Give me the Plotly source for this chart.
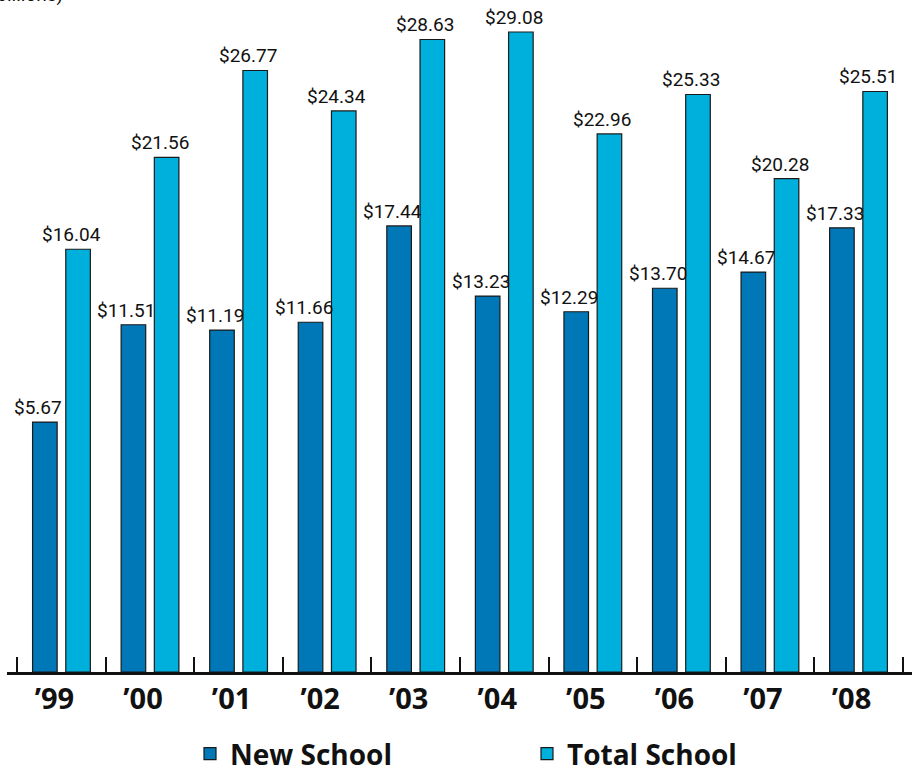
import plotly.graph_objects as go

years = ["’99", "’00", "’01", "’02", "’03", "’04", "’05", "’06", "’07", "’08"]
new_school = [5.67, 11.51, 11.19, 11.66, 17.44, 13.23, 12.29, 13.70, 14.67, 17.33]
total_school = [16.04, 21.56, 26.77, 24.34, 28.63, 29.08, 22.96, 25.33, 20.28, 25.51]

BASE = -9.33
Y_TOP = 31.0
DARK = "#0077b6"
LIGHT = "#00b0dc"
OUTLINE = "#1a1a1a"
LABEL_FONT = "Roboto, sans-serif"
BOLD_FONT = "Open Sans, Roboto, sans-serif"

BARGAP = 0.25
CAT_PX = 88.56
SLOT_PX = CAT_PX * (1 - BARGAP) / 2
LABEL_SHIFT = -7
PLOT_H = 672


def bar(name, vals, color):
    return go.Bar(
        name=name,
        x=years,
        y=[v - BASE for v in vals],
        base=BASE,
        marker=dict(color=color, line=dict(color=OUTLINE, width=1.2)),
        hoverinfo="skip",
    )


fig = go.Figure([bar("New School", new_school, DARK), bar("Total School", total_school, LIGHT)])

annotations = []
for vals, side in ((new_school, -1), (total_school, 1)):
    for yr, v in zip(years, vals):
        annotations.append(dict(
            x=yr, y=v, xref="x", yref="y",
            text=f"${v:.2f}",
            showarrow=False,
            xanchor="center", yanchor="bottom",
            xshift=side * SLOT_PX / 2 + LABEL_SHIFT,
            yshift=1,
            font=dict(family=LABEL_FONT, size=19, color="#111111"),
        ))

annotations.append(dict(
    text="(in billions)",
    xref="paper", yref="paper",
    x=0, y=1,
    xanchor="right", yanchor="bottom",
    xshift=58, yshift=-8,
    showarrow=False,
    font=dict(family=LABEL_FONT, size=19, color="#111111"),
))

fig.update_layout(
    width=912,
    height=769,
    margin=dict(l=7, r=0, t=0, b=97, autoexpand=False),
    paper_bgcolor="white",
    plot_bgcolor="white",
    barmode="group",
    bargap=BARGAP,
    bargroupgap=0.26,
    showlegend=True,
    legend=dict(
        orientation="h",
        xref="container",
        yref="paper",
        x=190 / 912,
        xanchor="left",
        y=-107 / PLOT_H,
        yanchor="bottom",
        entrywidth=292,
        font=dict(family=BOLD_FONT, size=28, color="#111111", weight="bold"),
        bgcolor="rgba(0,0,0,0)",
        traceorder="normal",
    ),
    xaxis=dict(
        range=[-0.615, 9.604],
        showline=True,
        linecolor="#111111",
        linewidth=2.5,
        ticks="inside",
        tickson="boundaries",
        ticklen=15,
        tickwidth=2,
        tickcolor="#111111",
        showgrid=False,
        zeroline=False,
        automargin=False,
        tickfont=dict(family=BOLD_FONT, size=29, color="#111111", weight="bold"),
        ticklabelshift=-7,
        ticklabelstandoff=-1,
    ),
    yaxis=dict(
        range=[BASE, Y_TOP],
        visible=False,
        showgrid=False,
        zeroline=False,
    ),
    annotations=annotations,
)

fig.write_html(
    "out.html",
    config={"displayModeBar": False},
    post_script="document.body.style.margin='0';document.body.style.padding='0';document.body.style.overflow='hidden';",
)
